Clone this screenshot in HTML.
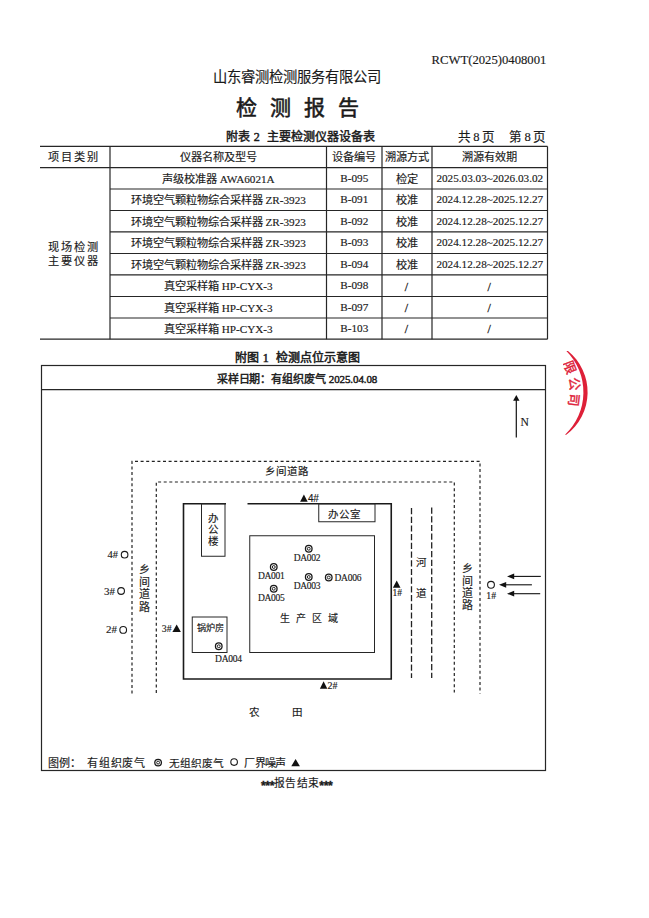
<!DOCTYPE html>
<html lang="zh-CN"><head><meta charset="utf-8"><style>
html,body{margin:0;padding:0;background:#fff;}
body{width:649px;height:918px;position:relative;overflow:hidden;}
.t{position:absolute;white-space:nowrap;-webkit-text-stroke:0.15px #1a1a1a;}
.sf{font-family:'Liberation Serif',serif;}
.ast{font-family:'Liberation Sans',sans-serif;font-weight:bold;font-size:12.2px;position:relative;top:2.9px;letter-spacing:-0.35px;-webkit-text-stroke:0.35px #1a1a1a;}
svg{position:absolute;left:0;top:0;}
</style></head><body>
<svg width="649" height="918" viewBox="0 0 649 918">
<line x1="40" y1="146.4" x2="547.5" y2="146.4" stroke="#262626" stroke-width="1.2"/>
<line x1="40" y1="167.6" x2="547.5" y2="167.6" stroke="#262626" stroke-width="1.2"/>
<line x1="110" y1="189" x2="547.5" y2="189" stroke="#262626" stroke-width="1.2"/>
<line x1="110" y1="210.5" x2="547.5" y2="210.5" stroke="#262626" stroke-width="1.2"/>
<line x1="110" y1="231.9" x2="547.5" y2="231.9" stroke="#262626" stroke-width="1.2"/>
<line x1="110" y1="253.5" x2="547.5" y2="253.5" stroke="#262626" stroke-width="1.2"/>
<line x1="110" y1="274.9" x2="547.5" y2="274.9" stroke="#262626" stroke-width="1.2"/>
<line x1="110" y1="296.5" x2="547.5" y2="296.5" stroke="#262626" stroke-width="1.2"/>
<line x1="110" y1="318" x2="547.5" y2="318" stroke="#262626" stroke-width="1.2"/>
<line x1="40" y1="339.2" x2="547.5" y2="339.2" stroke="#262626" stroke-width="1.2"/>
<line x1="110" y1="146.4" x2="110" y2="339.2" stroke="#262626" stroke-width="1.2"/>
<line x1="326.5" y1="146.4" x2="326.5" y2="339.2" stroke="#262626" stroke-width="1.2"/>
<line x1="382" y1="146.4" x2="382" y2="339.2" stroke="#262626" stroke-width="1.2"/>
<line x1="432" y1="146.4" x2="432" y2="339.2" stroke="#262626" stroke-width="1.2"/>
<line x1="547.5" y1="146.4" x2="547.5" y2="339.2" stroke="#262626" stroke-width="1.2"/>
<rect x="41.5" y="365.5" width="504.0" height="405.0" stroke="#262626" stroke-width="1.2" fill="none"/>
<line x1="41.5" y1="389.7" x2="545.5" y2="389.7" stroke="#262626" stroke-width="1.3"/>
<line x1="516.3" y1="399" x2="516.3" y2="437.4" stroke="#111" stroke-width="1.2"/>
<path d="M516.3 394.9 L513.1 400.8 L519.5 400.8 Z" stroke="#262626" stroke-width="0" fill="#111" />
<path d="M132 693.5 L132 461.3 L480 461.3 L480 693.5" stroke="#222" stroke-width="1.2" fill="none" stroke-dasharray="3 2.6" />
<path d="M156.3 693 L156.3 482 L454.3 482 L454.3 692.5" stroke="#222" stroke-width="1.2" fill="none" stroke-dasharray="3 2.6" />
<path d="M226 503.75 L183.5 503.75 L183.5 679 L391.25 679 L391.25 503.75 L247.5 503.75" stroke="#1a1a1a" stroke-width="1.6" fill="none" />
<rect x="201.5" y="503.75" width="23.5" height="52.5" stroke="#262626" stroke-width="1" fill="none"/>
<rect x="318.75" y="503.75" width="56.25" height="18" stroke="#262626" stroke-width="1" fill="none"/>
<rect x="249.75" y="535.75" width="124.75" height="116.75" stroke="#262626" stroke-width="1" fill="none"/>
<rect x="192.25" y="617" width="34.75" height="35.5" stroke="#262626" stroke-width="1" fill="none"/>
<circle cx="308.75" cy="548.75" r="3.3" stroke="#1a1a1a" stroke-width="1.3" fill="none"/>
<circle cx="308.75" cy="548.75" r="1.45" stroke="#222" stroke-width="1.0" fill="none"/>
<circle cx="273.75" cy="567" r="3.3" stroke="#1a1a1a" stroke-width="1.3" fill="none"/>
<circle cx="273.75" cy="567" r="1.45" stroke="#222" stroke-width="1.0" fill="none"/>
<circle cx="308.75" cy="577" r="3.3" stroke="#1a1a1a" stroke-width="1.3" fill="none"/>
<circle cx="308.75" cy="577" r="1.45" stroke="#222" stroke-width="1.0" fill="none"/>
<circle cx="328.75" cy="577.5" r="3.3" stroke="#1a1a1a" stroke-width="1.3" fill="none"/>
<circle cx="328.75" cy="577.5" r="1.45" stroke="#222" stroke-width="1.0" fill="none"/>
<circle cx="273.75" cy="588.75" r="3.3" stroke="#1a1a1a" stroke-width="1.3" fill="none"/>
<circle cx="273.75" cy="588.75" r="1.45" stroke="#222" stroke-width="1.0" fill="none"/>
<circle cx="218.75" cy="646.25" r="3.3" stroke="#1a1a1a" stroke-width="1.3" fill="none"/>
<circle cx="218.75" cy="646.25" r="1.45" stroke="#222" stroke-width="1.0" fill="none"/>
<path d="M300.1 501.8 L303.90 494.50 L307.70 501.8 Z" stroke="#262626" stroke-width="0" fill="#111" />
<path d="M392.9 587.7 L396.70 580.40 L400.50 587.7 Z" stroke="#262626" stroke-width="0" fill="#111" />
<path d="M172.4 632 L176.65 624.60 L180.90 632 Z" stroke="#262626" stroke-width="0" fill="#111" />
<path d="M319.9 688.7 L323.60 681.30 L327.30 688.7 Z" stroke="#262626" stroke-width="0" fill="#111" />
<line x1="411.5" y1="508" x2="411.5" y2="678" stroke="#222" stroke-width="1.3" stroke-dasharray="6.2 2.5"/>
<line x1="431.7" y1="507.5" x2="431.7" y2="678" stroke="#222" stroke-width="1.3" stroke-dasharray="6.2 2.5"/>
<circle cx="124.6" cy="554.7" r="3.3" stroke="#1a1a1a" stroke-width="1.1" fill="none"/>
<circle cx="121.1" cy="591" r="3.35" stroke="#1a1a1a" stroke-width="1.1" fill="none"/>
<circle cx="123.2" cy="629.9" r="3.35" stroke="#1a1a1a" stroke-width="1.1" fill="none"/>
<circle cx="491" cy="584.8" r="3.4" stroke="#1a1a1a" stroke-width="1.1" fill="none"/>
<line x1="512" y1="576.4" x2="540.8" y2="576.4" stroke="#111" stroke-width="1.1"/>
<path d="M507 576.4 L514.20 573.50 L514.20 579.30 Z" stroke="#262626" stroke-width="0" fill="#111" />
<line x1="504" y1="584.8" x2="531.9" y2="584.8" stroke="#111" stroke-width="1.1"/>
<path d="M499 584.8 L506.20 581.90 L506.20 587.70 Z" stroke="#262626" stroke-width="0" fill="#111" />
<line x1="512" y1="593.7" x2="540.2" y2="593.7" stroke="#111" stroke-width="1.1"/>
<path d="M507 593.7 L514.20 590.80 L514.20 596.60 Z" stroke="#262626" stroke-width="0" fill="#111" />
<circle cx="158.1" cy="762.6" r="3.3" stroke="#1a1a1a" stroke-width="1.3" fill="none"/>
<circle cx="158.1" cy="762.6" r="1.45" stroke="#222" stroke-width="1.0" fill="none"/>
<circle cx="234.1" cy="762.1" r="3.3" stroke="#1a1a1a" stroke-width="1.1" fill="none"/>
<path d="M291.3 766.2 L295.60 758.90 L299.90 766.2 Z" stroke="#262626" stroke-width="0" fill="#111" />
<path d="M568 351 A53.16 53.16 0 0 1 566.3 434.8 L565 434.8 A58.4 58.4 0 0 0 566.35 351 Z" stroke="#262626" stroke-width="0" fill="#de2038" />
<defs><clipPath id="stc"><rect x="563" y="340" width="40" height="100"/></clipPath></defs>
<g clip-path="url(#stc)"><text x="0" y="0" transform="translate(569.91 367) rotate(68.8)" font-size="13" fill="#de2038" stroke="#de2038" stroke-width="0.4" text-anchor="middle" dominant-baseline="central" font-family="Liberation Serif, serif">限</text><text x="0" y="0" transform="translate(574.11 384) rotate(83.0)" font-size="13" fill="#de2038" stroke="#de2038" stroke-width="0.4" text-anchor="middle" dominant-baseline="central" font-family="Liberation Serif, serif">公</text><text x="0" y="0" transform="translate(574.19 400) rotate(96.7)" font-size="13" fill="#de2038" stroke="#de2038" stroke-width="0.4" text-anchor="middle" dominant-baseline="central" font-family="Liberation Serif, serif">司</text></g>
</svg>
<div class="t" style="left:431.5px;top:53.8px;font-size:12.7px;line-height:12.7px;font-weight:normal;font-family:'Liberation Serif', serif;color:#1a1a1a;">RCWT(2025)0408001</div>
<div class="t" style="left:297.4px;top:70.1px;font-size:14.3px;line-height:14.3px;font-weight:normal;font-family:'Liberation Sans', sans-serif;color:#1a1a1a;letter-spacing:0px;transform:translateX(-50%);">山东睿测检测服务有限公司</div>
<div class="t" style="left:295.3px;top:96.7px;font-size:21px;line-height:21px;font-weight:normal;font-family:'Liberation Sans', sans-serif;color:#1a1a1a;letter-spacing:-4px;-webkit-text-stroke:0.55px #1a1a1a;transform:translateX(-50%);">检&#8195;测&#8195;报&#8195;告</div>
<div class="t" style="left:300.5px;top:131.1px;font-size:12px;line-height:12px;font-weight:normal;font-family:'Liberation Sans', sans-serif;color:#1a1a1a;-webkit-text-stroke:0.45px #1a1a1a;transform:translateX(-50%);">附表 <span class="sf">2</span>&nbsp; 主要检测仪器设备表</div>
<div class="t" style="left:457.8px;top:130.8px;font-size:12.6px;line-height:12.6px;font-weight:normal;font-family:'Liberation Serif', serif;color:#1a1a1a;letter-spacing:-0.3px;">共 8 页</div>
<div class="t" style="left:509.3px;top:130.8px;font-size:12.6px;line-height:12.6px;font-weight:normal;font-family:'Liberation Serif', serif;color:#1a1a1a;letter-spacing:-0.5px;">第 8 页</div>
<div class="t" style="left:73.8px;top:152.3px;font-size:11.2px;line-height:11.2px;font-weight:normal;font-family:'Liberation Sans', sans-serif;color:#1a1a1a;letter-spacing:2px;transform:translateX(-50%);">项目类别</div>
<div class="t" style="left:218.25px;top:152.3px;font-size:11.2px;line-height:11.2px;font-weight:normal;font-family:'Liberation Sans', sans-serif;color:#1a1a1a;transform:translateX(-50%);">仪器名称及型号</div>
<div class="t" style="left:354.25px;top:152.3px;font-size:11.2px;line-height:11.2px;font-weight:normal;font-family:'Liberation Sans', sans-serif;color:#1a1a1a;transform:translateX(-50%);">设备编号</div>
<div class="t" style="left:407.0px;top:152.3px;font-size:11.2px;line-height:11.2px;font-weight:normal;font-family:'Liberation Sans', sans-serif;color:#1a1a1a;transform:translateX(-50%);">溯源方式</div>
<div class="t" style="left:489.75px;top:152.3px;font-size:11.2px;line-height:11.2px;font-weight:normal;font-family:'Liberation Sans', sans-serif;color:#1a1a1a;transform:translateX(-50%);">溯源有效期</div>
<div class="t" style="left:218.25px;top:173.6px;font-size:11.2px;line-height:11.2px;font-weight:normal;font-family:'Liberation Serif', serif;color:#1a1a1a;transform:translateX(-50%);">声级校准器 AWA6021A</div>
<div class="t" style="left:354.25px;top:172.7px;font-size:11.2px;line-height:11.2px;font-weight:normal;font-family:'Liberation Serif', serif;color:#1a1a1a;transform:translateX(-50%);">B-095</div>
<div class="t" style="left:407.0px;top:173.6px;font-size:11.2px;line-height:11.2px;font-weight:normal;font-family:'Liberation Serif', serif;color:#1a1a1a;transform:translateX(-50%);">检定</div>
<div class="t" style="left:489.75px;top:172.7px;font-size:11.2px;line-height:11.2px;font-weight:normal;font-family:'Liberation Serif', serif;color:#1a1a1a;transform:translateX(-50%);">2025.03.03~2026.03.02</div>
<div class="t" style="left:218.25px;top:195.05px;font-size:11.2px;line-height:11.2px;font-weight:normal;font-family:'Liberation Serif', serif;color:#1a1a1a;transform:translateX(-50%);">环境空气颗粒物综合采样器 ZR-3923</div>
<div class="t" style="left:354.25px;top:194.15px;font-size:11.2px;line-height:11.2px;font-weight:normal;font-family:'Liberation Serif', serif;color:#1a1a1a;transform:translateX(-50%);">B-091</div>
<div class="t" style="left:407.0px;top:195.05px;font-size:11.2px;line-height:11.2px;font-weight:normal;font-family:'Liberation Serif', serif;color:#1a1a1a;transform:translateX(-50%);">校准</div>
<div class="t" style="left:489.75px;top:194.15px;font-size:11.2px;line-height:11.2px;font-weight:normal;font-family:'Liberation Serif', serif;color:#1a1a1a;transform:translateX(-50%);">2024.12.28~2025.12.27</div>
<div class="t" style="left:218.25px;top:216.5px;font-size:11.2px;line-height:11.2px;font-weight:normal;font-family:'Liberation Serif', serif;color:#1a1a1a;transform:translateX(-50%);">环境空气颗粒物综合采样器 ZR-3923</div>
<div class="t" style="left:354.25px;top:215.6px;font-size:11.2px;line-height:11.2px;font-weight:normal;font-family:'Liberation Serif', serif;color:#1a1a1a;transform:translateX(-50%);">B-092</div>
<div class="t" style="left:407.0px;top:216.5px;font-size:11.2px;line-height:11.2px;font-weight:normal;font-family:'Liberation Serif', serif;color:#1a1a1a;transform:translateX(-50%);">校准</div>
<div class="t" style="left:489.75px;top:215.6px;font-size:11.2px;line-height:11.2px;font-weight:normal;font-family:'Liberation Serif', serif;color:#1a1a1a;transform:translateX(-50%);">2024.12.28~2025.12.27</div>
<div class="t" style="left:218.25px;top:238.0px;font-size:11.2px;line-height:11.2px;font-weight:normal;font-family:'Liberation Serif', serif;color:#1a1a1a;transform:translateX(-50%);">环境空气颗粒物综合采样器 ZR-3923</div>
<div class="t" style="left:354.25px;top:237.1px;font-size:11.2px;line-height:11.2px;font-weight:normal;font-family:'Liberation Serif', serif;color:#1a1a1a;transform:translateX(-50%);">B-093</div>
<div class="t" style="left:407.0px;top:238.0px;font-size:11.2px;line-height:11.2px;font-weight:normal;font-family:'Liberation Serif', serif;color:#1a1a1a;transform:translateX(-50%);">校准</div>
<div class="t" style="left:489.75px;top:237.1px;font-size:11.2px;line-height:11.2px;font-weight:normal;font-family:'Liberation Serif', serif;color:#1a1a1a;transform:translateX(-50%);">2024.12.28~2025.12.27</div>
<div class="t" style="left:218.25px;top:259.5px;font-size:11.2px;line-height:11.2px;font-weight:normal;font-family:'Liberation Serif', serif;color:#1a1a1a;transform:translateX(-50%);">环境空气颗粒物综合采样器 ZR-3923</div>
<div class="t" style="left:354.25px;top:258.6px;font-size:11.2px;line-height:11.2px;font-weight:normal;font-family:'Liberation Serif', serif;color:#1a1a1a;transform:translateX(-50%);">B-094</div>
<div class="t" style="left:407.0px;top:259.5px;font-size:11.2px;line-height:11.2px;font-weight:normal;font-family:'Liberation Serif', serif;color:#1a1a1a;transform:translateX(-50%);">校准</div>
<div class="t" style="left:489.75px;top:258.6px;font-size:11.2px;line-height:11.2px;font-weight:normal;font-family:'Liberation Serif', serif;color:#1a1a1a;transform:translateX(-50%);">2024.12.28~2025.12.27</div>
<div class="t" style="left:218.25px;top:281.0px;font-size:11.2px;line-height:11.2px;font-weight:normal;font-family:'Liberation Serif', serif;color:#1a1a1a;transform:translateX(-50%);">真空采样箱 HP-CYX-3</div>
<div class="t" style="left:354.25px;top:280.1px;font-size:11.2px;line-height:11.2px;font-weight:normal;font-family:'Liberation Serif', serif;color:#1a1a1a;transform:translateX(-50%);">B-098</div>
<div class="t" style="left:406.5px;top:280.5px;font-size:12px;line-height:12px;font-weight:normal;font-family:'Liberation Serif', serif;color:#1a1a1a;-webkit-text-stroke:0.3px #1a1a1a;transform:translateX(-50%);">/</div>
<div class="t" style="left:489.25px;top:280.5px;font-size:12px;line-height:12px;font-weight:normal;font-family:'Liberation Serif', serif;color:#1a1a1a;-webkit-text-stroke:0.3px #1a1a1a;transform:translateX(-50%);">/</div>
<div class="t" style="left:218.25px;top:302.55px;font-size:11.2px;line-height:11.2px;font-weight:normal;font-family:'Liberation Serif', serif;color:#1a1a1a;transform:translateX(-50%);">真空采样箱 HP-CYX-3</div>
<div class="t" style="left:354.25px;top:301.65px;font-size:11.2px;line-height:11.2px;font-weight:normal;font-family:'Liberation Serif', serif;color:#1a1a1a;transform:translateX(-50%);">B-097</div>
<div class="t" style="left:406.5px;top:302.05px;font-size:12px;line-height:12px;font-weight:normal;font-family:'Liberation Serif', serif;color:#1a1a1a;-webkit-text-stroke:0.3px #1a1a1a;transform:translateX(-50%);">/</div>
<div class="t" style="left:489.25px;top:302.05px;font-size:12px;line-height:12px;font-weight:normal;font-family:'Liberation Serif', serif;color:#1a1a1a;-webkit-text-stroke:0.3px #1a1a1a;transform:translateX(-50%);">/</div>
<div class="t" style="left:218.25px;top:323.9px;font-size:11.2px;line-height:11.2px;font-weight:normal;font-family:'Liberation Serif', serif;color:#1a1a1a;transform:translateX(-50%);">真空采样箱 HP-CYX-3</div>
<div class="t" style="left:354.25px;top:323.0px;font-size:11.2px;line-height:11.2px;font-weight:normal;font-family:'Liberation Serif', serif;color:#1a1a1a;transform:translateX(-50%);">B-103</div>
<div class="t" style="left:406.5px;top:323.4px;font-size:12px;line-height:12px;font-weight:normal;font-family:'Liberation Serif', serif;color:#1a1a1a;-webkit-text-stroke:0.3px #1a1a1a;transform:translateX(-50%);">/</div>
<div class="t" style="left:489.25px;top:323.4px;font-size:12px;line-height:12px;font-weight:normal;font-family:'Liberation Serif', serif;color:#1a1a1a;-webkit-text-stroke:0.3px #1a1a1a;transform:translateX(-50%);">/</div>
<div class="t" style="left:74.4px;top:241.9px;font-size:11.2px;line-height:11.2px;font-weight:normal;font-family:'Liberation Sans', sans-serif;color:#1a1a1a;letter-spacing:2px;transform:translateX(-50%);">现场检测</div>
<div class="t" style="left:74.4px;top:256.4px;font-size:11.2px;line-height:11.2px;font-weight:normal;font-family:'Liberation Sans', sans-serif;color:#1a1a1a;letter-spacing:2px;transform:translateX(-50%);">主要仪器</div>
<div class="t" style="left:297.5px;top:352.0px;font-size:12px;line-height:12px;font-weight:normal;font-family:'Liberation Sans', sans-serif;color:#1a1a1a;-webkit-text-stroke:0.5px #1a1a1a;transform:translateX(-50%);">附图 <span class="sf">1</span>&nbsp; 检测点位示意图</div>
<div class="t" style="left:297px;top:373.5px;font-size:11px;line-height:11px;font-weight:normal;font-family:'Liberation Sans', sans-serif;color:#1a1a1a;letter-spacing:-0.1px;-webkit-text-stroke:0.45px #1a1a1a;transform:translateX(-50%);">采样日期：有组织废气 <span class="sf">2025.04.08</span></div>
<div class="t" style="left:524.8px;top:417.2px;font-size:11.6px;line-height:11.6px;font-weight:normal;font-family:'Liberation Serif', serif;color:#1a1a1a;transform:translateX(-50%);">N</div>
<div class="t" style="left:286.6px;top:466.4px;font-size:10.5px;line-height:10.5px;font-weight:normal;font-family:'Liberation Sans', sans-serif;color:#1a1a1a;letter-spacing:1px;transform:translateX(-50%);">乡间道路</div>
<div class="t" style="left:213.25px;top:512.9px;font-size:10.5px;line-height:10.5px;font-weight:normal;font-family:'Liberation Sans', sans-serif;color:#1a1a1a;transform:translateX(-50%);">办</div>
<div class="t" style="left:213.25px;top:524.4px;font-size:10.5px;line-height:10.5px;font-weight:normal;font-family:'Liberation Sans', sans-serif;color:#1a1a1a;transform:translateX(-50%);">公</div>
<div class="t" style="left:213.25px;top:535.9px;font-size:10.5px;line-height:10.5px;font-weight:normal;font-family:'Liberation Sans', sans-serif;color:#1a1a1a;transform:translateX(-50%);">楼</div>
<div class="t" style="left:344.4px;top:509.4px;font-size:10.5px;line-height:10.5px;font-weight:normal;font-family:'Liberation Sans', sans-serif;color:#1a1a1a;letter-spacing:1px;transform:translateX(-50%);">办公室</div>
<div class="t" style="left:309px;top:614.4px;font-size:10px;line-height:10px;font-weight:normal;font-family:'Liberation Sans', sans-serif;color:#1a1a1a;letter-spacing:0.1px;transform:translateX(-50%);">生&nbsp; 产&nbsp; 区&nbsp; 域</div>
<div class="t" style="left:210.4px;top:623.6px;font-size:9.1px;line-height:9.1px;font-weight:normal;font-family:'Liberation Sans', sans-serif;color:#1a1a1a;transform:translateX(-50%);">锅炉房</div>
<div class="t" style="left:307px;top:553.6px;font-size:9.5px;line-height:9.5px;font-weight:normal;font-family:'Liberation Serif', serif;color:#1a1a1a;letter-spacing:-0.25px;transform:translateX(-50%);">DA002</div>
<div class="t" style="left:271.25px;top:572.1px;font-size:9.5px;line-height:9.5px;font-weight:normal;font-family:'Liberation Serif', serif;color:#1a1a1a;letter-spacing:-0.25px;transform:translateX(-50%);">DA001</div>
<div class="t" style="left:307px;top:582.1px;font-size:9.5px;line-height:9.5px;font-weight:normal;font-family:'Liberation Serif', serif;color:#1a1a1a;letter-spacing:-0.25px;transform:translateX(-50%);">DA003</div>
<div class="t" style="left:334.5px;top:574.1px;font-size:9.5px;line-height:9.5px;font-weight:normal;font-family:'Liberation Serif', serif;color:#1a1a1a;letter-spacing:-0.25px;">DA006</div>
<div class="t" style="left:271.25px;top:594.1px;font-size:9.5px;line-height:9.5px;font-weight:normal;font-family:'Liberation Serif', serif;color:#1a1a1a;letter-spacing:-0.25px;transform:translateX(-50%);">DA005</div>
<div class="t" style="left:228.4px;top:654.6px;font-size:9.5px;line-height:9.5px;font-weight:normal;font-family:'Liberation Serif', serif;color:#1a1a1a;letter-spacing:-0.25px;transform:translateX(-50%);">DA004</div>
<div class="t" style="left:308px;top:494.2px;font-size:10px;line-height:10px;font-weight:normal;font-family:'Liberation Sans', sans-serif;color:#1a1a1a;letter-spacing:-0.3px;">4#</div>
<div class="t" style="left:397.2px;top:588.6px;font-size:9.5px;line-height:9.5px;font-weight:normal;font-family:'Liberation Serif', serif;color:#1a1a1a;transform:translateX(-50%);">1#</div>
<div class="t" style="left:161.8px;top:624.3px;font-size:9.8px;line-height:9.8px;font-weight:normal;font-family:'Liberation Serif', serif;color:#1a1a1a;">3#</div>
<div class="t" style="left:327.6px;top:681.2px;font-size:10px;line-height:10px;font-weight:normal;font-family:'Liberation Serif', serif;color:#1a1a1a;">2#</div>
<div class="t" style="left:420.75px;top:556.9px;font-size:10.5px;line-height:10.5px;font-weight:normal;font-family:'Liberation Sans', sans-serif;color:#1a1a1a;transform:translateX(-50%);">河</div>
<div class="t" style="left:420.75px;top:588.4px;font-size:10.5px;line-height:10.5px;font-weight:normal;font-family:'Liberation Sans', sans-serif;color:#1a1a1a;transform:translateX(-50%);">道</div>
<div class="t" style="left:144.4px;top:564.2px;font-size:11px;line-height:11px;font-weight:normal;font-family:'Liberation Sans', sans-serif;color:#1a1a1a;transform:translateX(-50%);">乡</div>
<div class="t" style="left:467.1px;top:563.2px;font-size:11px;line-height:11px;font-weight:normal;font-family:'Liberation Sans', sans-serif;color:#1a1a1a;transform:translateX(-50%);">乡</div>
<div class="t" style="left:144.4px;top:576.7px;font-size:11px;line-height:11px;font-weight:normal;font-family:'Liberation Sans', sans-serif;color:#1a1a1a;transform:translateX(-50%);">间</div>
<div class="t" style="left:467.1px;top:575.6px;font-size:11px;line-height:11px;font-weight:normal;font-family:'Liberation Sans', sans-serif;color:#1a1a1a;transform:translateX(-50%);">间</div>
<div class="t" style="left:144.4px;top:589.2px;font-size:11px;line-height:11px;font-weight:normal;font-family:'Liberation Sans', sans-serif;color:#1a1a1a;transform:translateX(-50%);">道</div>
<div class="t" style="left:467.1px;top:588.0px;font-size:11px;line-height:11px;font-weight:normal;font-family:'Liberation Sans', sans-serif;color:#1a1a1a;transform:translateX(-50%);">道</div>
<div class="t" style="left:144.4px;top:601.7px;font-size:11px;line-height:11px;font-weight:normal;font-family:'Liberation Sans', sans-serif;color:#1a1a1a;transform:translateX(-50%);">路</div>
<div class="t" style="left:467.1px;top:600.4px;font-size:11px;line-height:11px;font-weight:normal;font-family:'Liberation Sans', sans-serif;color:#1a1a1a;transform:translateX(-50%);">路</div>
<div class="t" style="left:107.4px;top:549.8px;font-size:10.5px;line-height:10.5px;font-weight:normal;font-family:'Liberation Serif', serif;color:#1a1a1a;">4#</div>
<div class="t" style="left:103.9px;top:585.9px;font-size:11px;line-height:11px;font-weight:normal;font-family:'Liberation Serif', serif;color:#1a1a1a;">3#</div>
<div class="t" style="left:106px;top:624px;font-size:11px;line-height:11px;font-weight:normal;font-family:'Liberation Serif', serif;color:#1a1a1a;">2#</div>
<div class="t" style="left:491.2px;top:590.6px;font-size:9.8px;line-height:9.8px;font-weight:normal;font-family:'Liberation Serif', serif;color:#1a1a1a;transform:translateX(-50%);">1#</div>
<div class="t" style="left:254px;top:707.4px;font-size:10.5px;line-height:10.5px;font-weight:normal;font-family:'Liberation Sans', sans-serif;color:#1a1a1a;transform:translateX(-50%);">农</div>
<div class="t" style="left:297px;top:707.4px;font-size:10.5px;line-height:10.5px;font-weight:normal;font-family:'Liberation Sans', sans-serif;color:#1a1a1a;transform:translateX(-50%);">田</div>
<div class="t" style="left:48px;top:757.5px;font-size:11px;line-height:11px;font-weight:normal;font-family:'Liberation Sans', sans-serif;color:#1a1a1a;">图例：</div>
<div class="t" style="left:87.2px;top:757.5px;font-size:11px;line-height:11px;font-weight:normal;font-family:'Liberation Sans', sans-serif;color:#1a1a1a;letter-spacing:0.7px;">有组织废气</div>
<div class="t" style="left:169.3px;top:757.7px;font-size:10.7px;line-height:10.7px;font-weight:normal;font-family:'Liberation Sans', sans-serif;color:#1a1a1a;">无组织废气</div>
<div class="t" style="left:244.3px;top:757.5px;font-size:11px;line-height:11px;font-weight:normal;font-family:'Liberation Sans', sans-serif;color:#1a1a1a;letter-spacing:-0.7px;">厂界噪声</div>
<div class="t" style="left:296.7px;top:778.2px;font-size:10.8px;line-height:10.8px;font-weight:500;font-family:'Liberation Sans', sans-serif;color:#1a1a1a;letter-spacing:0.3px;transform:translateX(-50%);"><b class="ast">***</b>报告结束<b class="ast">***</b></div>
</body></html>
